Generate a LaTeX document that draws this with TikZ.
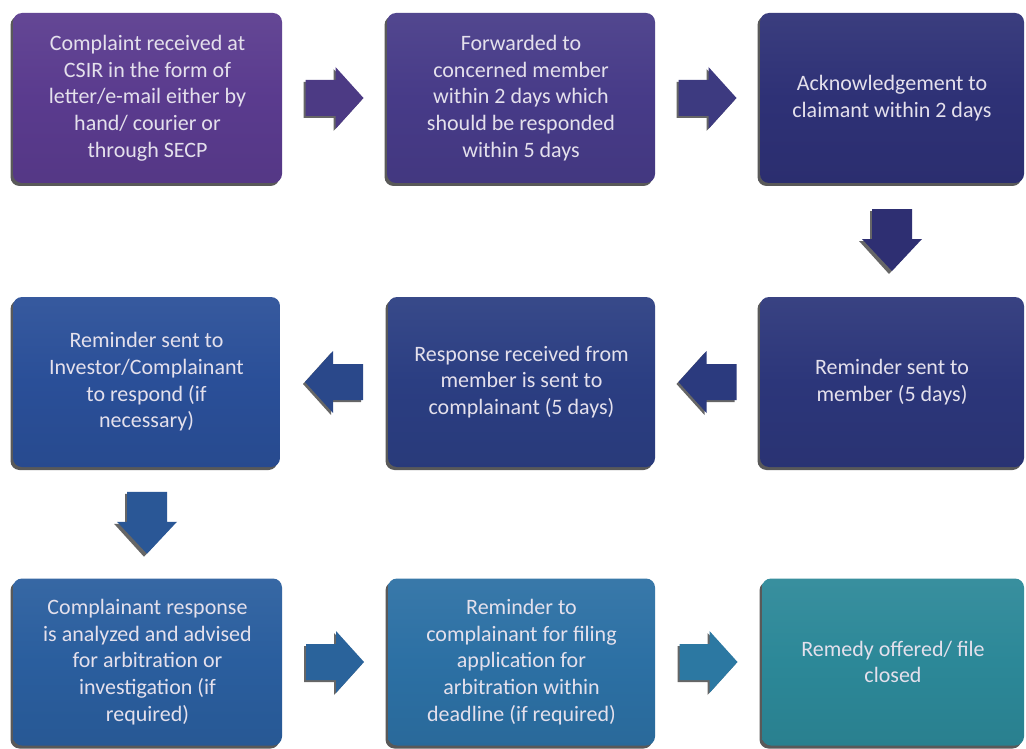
\documentclass[tikz,border=0pt]{standalone}
\usepackage{fontspec}
\setmainfont{Carlito}
\usetikzlibrary{calc,shadows}
\definecolor{cA}{HTML}{5A3B8E}
\definecolor{cB}{HTML}{473B88}
\definecolor{cC}{HTML}{2E3176}
\definecolor{cD}{HTML}{2A4F98}
\definecolor{cE}{HTML}{2B3E82}
\definecolor{cF}{HTML}{2C367A}
\definecolor{cG}{HTML}{2A5E9E}
\definecolor{cH}{HTML}{2C70A4}
\definecolor{cI}{HTML}{2C8898}
\definecolor{aA}{HTML}{4C3A84}
\definecolor{aB}{HTML}{3D3A80}
\definecolor{aC}{HTML}{2E2F72}
\definecolor{aD}{HTML}{2B3A7E}
\definecolor{aE}{HTML}{2A488A}
\definecolor{aF}{HTML}{2A5796}
\definecolor{aG}{HTML}{2A639B}
\definecolor{aH}{HTML}{2C78A2}
\definecolor{txt}{HTML}{E4E0EC}
\tikzset{
  box/.style={rounded corners=9pt, inner sep=0pt, align=center, text=txt,
    font=\fontsize{22}{26.7}\selectfont,
    top color=#1!94!white, bottom color=#1!94!black, middle color=#1,
    drop shadow={shadow xshift=-2.5pt, shadow yshift=-3pt, fill=black, opacity=0.65}},
  wbox/.style={box=#1, minimum width=269pt, minimum height=170pt},
  arrshadow/.style={fill=black, opacity=0.6},
  rarrow/.pic={
    \fill[arrshadow] (-31,-16) -- (-1,-16) -- (-1,-29) -- (27,2) -- (-1,33) -- (-1,20) -- (-31,20) -- cycle;
    \fill[pic actions] (-29,-18) -- (1,-18) -- (1,-31) -- (29,0) -- (1,31) -- (1,18) -- (-29,18) -- cycle;
  },
  larrow/.pic={
    \fill[arrshadow] (27,-16) -- (-3,-16) -- (-3,-29) -- (-31,2) -- (-3,33) -- (-3,20) -- (27,20) -- cycle;
    \fill[pic actions] (29,-18) -- (-1,-18) -- (-1,-31) -- (-29,0) -- (-1,31) -- (-1,18) -- (29,18) -- cycle;
  },
  darrow/.pic={
    \fill[arrshadow] (-22,-29) -- (16,-29) -- (16,1) -- (27,1) -- (-3,34) -- (-33,1) -- (-22,1) -- cycle;
    \fill[pic actions] (-20,-31) -- (20,-31) -- (20,-1) -- (30,-1) -- (0,31) -- (-30,-1) -- (-20,-1) -- cycle;
  },
}
\begin{document}
\begin{tikzpicture}[x=1pt,y=-1pt]
\fill[white] (0,0) rectangle (1026,749);
\useasboundingbox (0,0) rectangle (1026,749);

% row 1
\node[wbox=cA] (b1) at (147.5,98) {Complaint received at\\CSIR in the form of\\letter/e-mail either by\\hand/ courier or\\through SECP};
\node[wbox=cB, minimum width=268pt] (b2) at (521,98) {Forwarded to\\concerned member\\within 2 days which\\should be responded\\within 5 days};
\node[wbox=cC, minimum width=264pt] (b3) at (892,98) {Acknowledgement to\\claimant within 2 days};

% row 2
\node[wbox=cD, minimum width=267pt] (b4) at (146.5,382) {Reminder sent to\\Investor/Complainant\\to respond (if\\necessary)};
\node[wbox=cE, minimum width=267pt] (b5) at (521.5,382) {Response received from\\member is sent to\\complainant (5 days)};
\node[wbox=cF, minimum width=264pt] (b6) at (892,382) {Reminder sent to\\member (5 days)};

% row 3
\node[wbox=cG, minimum height=167pt] (b7) at (147.5,662) {Complainant response\\is analyzed and advised\\for arbitration or\\investigation (if\\required)};
\node[wbox=cH, minimum width=267pt, minimum height=167pt] (b8) at (521.5,662) {Reminder to\\complainant for filing\\application for\\arbitration within\\deadline (if required)};
\node[wbox=cI, minimum width=262pt, minimum height=167pt] (b9) at (893,662) {Remedy offered/ file\\closed};

% block arrows
\pic[fill=aA] at ($(b1.east)!0.5!(b2.west)$) {rarrow};
\pic[fill=aB] at ($(b2.east)!0.5!(b3.west)$) {rarrow};
\pic[fill=aC] at ($(b3.south)!0.5!(b6.north)$) {darrow};
\pic[fill=aD] at ($(b6.west)!0.5!(b5.east)$) {larrow};
\pic[fill=aE] at ($(b5.west)!0.5!(b4.east)$) {larrow};
\pic[fill=aF] at ($(b4.south)!0.5!(b7.north)$) {darrow};
\pic[fill=aG] at ($(b7.east)!0.5!(b8.west)$) {rarrow};
\pic[fill=aH] at ($(b8.east)!0.5!(b9.west)$) {rarrow};
\end{tikzpicture}
\end{document}
